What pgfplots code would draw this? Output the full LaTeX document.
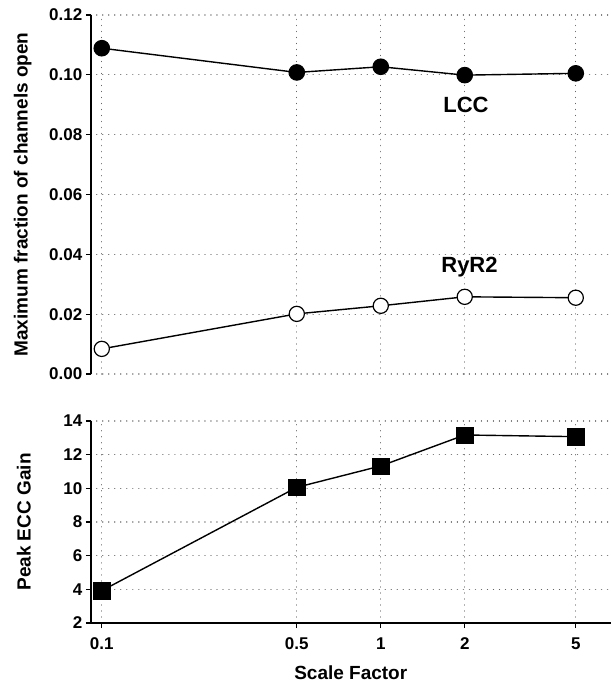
\documentclass[border=0pt]{standalone}
\usepackage{pgfplots}
\pgfplotsset{compat=1.18}
\usepackage{fontspec}
\setmainfont{Liberation Sans}
\begin{document}
\pgfplotsset{
  common/.style={
    scale only axis,
    width=520bp,
    xtick={0.1,0.5,1,2,5},
    xticklabels={0.1,0.5,1,2,5},
    /pgf/number format/assume math mode=true,
    tick label style={font=\fontsize{17bp}{17bp}\selectfont\bfseries},
    label style={font=\fontsize{19bp}{19bp}\selectfont\bfseries},
    grid=major,
    major grid style={draw=black!60, line width=1.3bp, dash pattern=on 0.01bp off 6bp, line cap=round},
    tick align=outside,
    major tick length=5bp,
    tick style={line width=1.3bp, black},
    axis line style={line width=1.6bp},
    clip=false,
    minor tick num=0,
  },
}
\begin{tikzpicture}
\useasboundingbox (0,0) rectangle (608bp,-683bp);
% top panel
\begin{axis}[xmode=log, log basis x=10, xmin=0.0913, xmax=6.675,
  common,
  at={(88bp,-374bp)}, anchor=south west,
  height=359bp,
  ymin=0, ymax=0.12,
  ytick={0,0.02,0.04,0.06,0.08,0.10,0.12},
  yticklabels={0.00,0.02,0.04,0.06,0.08,0.10,0.12},
  axis y line*=left,
  axis x line*=bottom,
  x axis line style={draw=none},
  xtick style={draw=none},
  xticklabels={},
  ylabel={Maximum fraction of channels open},
  ylabel style={at={(axis description cs:-0.1308,0.5)}, anchor=center},
]
\addplot[black, line width=1.4bp, mark=*, mark size=7.8bp, mark options={fill=black, line width=1bp}]
  coordinates {(0.1,0.1089) (0.5,0.1008) (1,0.1027) (2,0.0999) (5,0.1005)};
\addplot[black, line width=1.4bp, mark=*, mark size=7.6bp, mark options={fill=white, line width=1.2bp}]
  coordinates {(0.1,0.0084) (0.5,0.0201) (1,0.0228) (2,0.0258) (5,0.0255)};
\node[font=\fontsize{22bp}{22bp}\selectfont\bfseries] at (axis cs:2.02,0.0899) {LCC};
\node[font=\fontsize{22bp}{22bp}\selectfont\bfseries] at (axis cs:2.08,0.0358) {RyR2};
\end{axis}
% bottom panel
\begin{axis}[xmode=log, log basis x=10, xmin=0.0913, xmax=6.675,
  common,
  at={(88bp,-623bp)}, anchor=south west,
  height=202bp,
  ymin=2, ymax=14,
  ytick={2,4,6,8,10,12,14},
  axis y line*=left,
  axis x line*=bottom,
  xticklabel style={yshift=-6bp},
  ylabel={Peak ECC Gain},
  ylabel style={at={(axis description cs:-0.1288,0.5)}, anchor=center},
  xlabel={Scale Factor},
  xlabel style={at={(axis description cs:0.5,-0.2475)}, anchor=center},
]
\addplot[black, line width=1.4bp, mark=square*, mark size=8.2bp, mark options={fill=black, line width=0.5bp}]
  coordinates {(0.1,3.92) (0.5,10.06) (1,11.33) (2,13.17) (5,13.07)};
\end{axis}
\end{tikzpicture}
\end{document}
